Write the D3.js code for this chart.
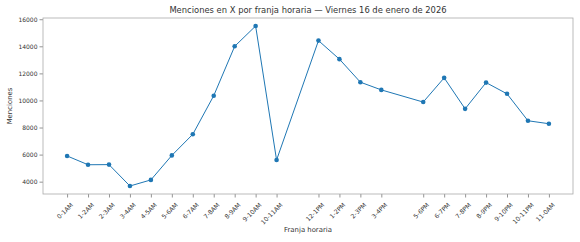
<!DOCTYPE html>
<html>
<head>
<meta charset="utf-8">
<script src="https://cdn.jsdelivr.net/npm/d3@7"></script>
<style>
  body { margin: 0; background: #fff; }
  text { font-family: "DejaVu Sans", sans-serif; }
</style>
</head>
<body>
<div id="chart"></div>
<script>
// hour slots (11-12 and 4-5PM are missing in the source)
var hours = [0, 1, 2, 3, 4, 5, 6, 7, 8, 9, 10, 12, 13, 14, 15, 17, 18, 19, 20, 21, 22, 23];
var labels = ["0-1AM", "1-2AM", "2-3AM", "3-4AM", "4-5AM", "5-6AM", "6-7AM", "7-8AM", "8-9AM", "9-10AM", "10-11AM",
  "12-1PM", "1-2PM", "2-3PM", "3-4PM", "5-6PM", "6-7PM", "7-8PM", "8-9PM", "9-10PM", "10-11PM", "11-0AM"];
var mentions = [5900, 5250, 5260, 3680, 4130, 5940, 7500, 10350, 14000, 15500, 5600,
  14420, 13050, 11350, 10780, 9880, 11670, 9380, 11320, 10490, 8500, 8280];
var yTicks = [4000, 6000, 8000, 10000, 12000, 14000, 16000];

var svgWidth = 580;
var svgHeight = 242;
var margin = { top: 18, right: 7, bottom: 48, left: 43 };
var width = svgWidth - margin.left - margin.right;
var height = svgHeight - margin.top - margin.bottom;
var textColor = "#333";

var svg = d3.select("#chart").append("svg")
  .attr("width", svgWidth)
  .attr("height", svgHeight);

var chartGroup = svg.append("g")
  .attr("transform", `translate(${margin.left}, ${margin.top})`);

// matplotlib-like 5% margins
var xMin = d3.min(hours), xMax = d3.max(hours);
var xPad = (xMax - xMin) * 0.05;
var x = d3.scaleLinear().domain([xMin - xPad, xMax + xPad]).range([0, width]);

var yMin = d3.min(mentions), yMax = d3.max(mentions);
var yPad = (yMax - yMin) * 0.05;
var y = d3.scaleLinear().domain([yMin - yPad, yMax + yPad]).range([height, 0]);

var bottomAxis = d3.axisBottom(x)
  .tickValues(hours)
  .tickFormat((d, i) => labels[i])
  .tickSize(3.5).tickPadding(2);
var leftAxis = d3.axisLeft(y)
  .tickValues(yTicks)
  .tickFormat(d3.format("d"))
  .tickSize(3.5).tickPadding(2);

var xAxis = chartGroup.append("g")
  .attr("transform", `translate(0, ${height})`)
  .call(bottomAxis);
xAxis.selectAll("text")
  .attr("fill", textColor)
  .style("font-size", "6.2px")
  .attr("text-anchor", "end")
  .attr("dx", "0")
  .attr("dy", "0")
  .attr("transform", "translate(2, 7.5) rotate(-45)");

var yAxis = chartGroup.append("g").call(leftAxis);
yAxis.selectAll("text").attr("fill", textColor).style("font-size", "6px");

chartGroup.selectAll(".domain").remove();
chartGroup.selectAll(".tick line").attr("stroke", "#666").attr("stroke-width", 0.7);

// frame
chartGroup.append("rect")
  .attr("width", width)
  .attr("height", height)
  .attr("fill", "none")
  .attr("stroke", "#aaa")
  .attr("stroke-width", 0.8);

var line = d3.line()
  .x((d, i) => x(hours[i]))
  .y(d => y(d));

chartGroup.append("path")
  .datum(mentions)
  .attr("fill", "none")
  .attr("stroke", "#1f77b4")
  .attr("stroke-width", 1)
  .attr("d", line);

chartGroup.selectAll("circle")
  .data(mentions)
  .enter()
  .append("circle")
  .attr("cx", (d, i) => x(hours[i]))
  .attr("cy", d => y(d))
  .attr("r", 2.3)
  .attr("fill", "#1f77b4");

svg.append("text")
  .attr("x", margin.left + width / 2)
  .attr("y", 13)
  .attr("text-anchor", "middle")
  .attr("fill", textColor)
  .style("font-size", "8.4px")
  .text("Menciones en X por franja horaria — Viernes 16 de enero de 2026");

svg.append("text")
  .attr("x", margin.left + width / 2)
  .attr("y", 232)
  .attr("text-anchor", "middle")
  .attr("fill", textColor)
  .style("font-size", "6.9px")
  .text("Franja horaria");

svg.append("text")
  .attr("transform", `translate(12, ${margin.top + height / 2}) rotate(-90)`)
  .attr("text-anchor", "middle")
  .attr("fill", textColor)
  .style("font-size", "6.9px")
  .text("Menciones");
</script>
</body>
</html>
